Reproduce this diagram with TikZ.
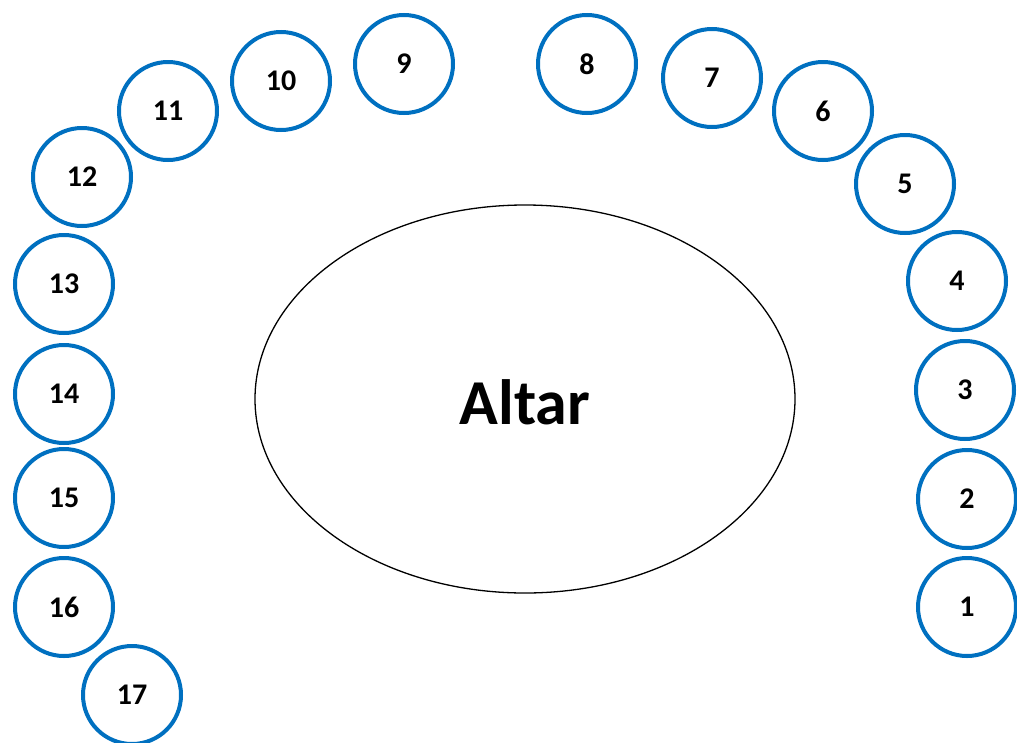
\documentclass[tikz,border=0pt]{standalone}
\usepackage{fontspec}
\setmainfont{Carlito}
\definecolor{seatblue}{HTML}{0070C0}
\begin{document}
\begin{tikzpicture}[x=1pt,y=-1pt,
  seat/.style={circle,draw=seatblue,line width=4pt,minimum size=98pt,inner sep=0pt,font=\bfseries\fontsize{30}{30}\selectfont}]
\useasboundingbox (0,0) rectangle (1017,742);
\node[seat] (s1) at (967,607) {1};
\node[seat] (s2) at (967,499) {2};
\node[seat] (s3) at (965,390) {3};
\node[seat] (s4) at (957,281) {4};
\node[seat] (s5) at (905,184) {5};
\node[seat] (s6) at (823,111) {6};
\node[seat] (s7) at (712,78) {7};
\node[seat] (s8) at (587,64) {8};
\node[seat] (s9) at (404,64) {9};
\node[seat] (s10) at (281,81) {10};
\node[seat] (s11) at (168,111) {11};
\node[seat] (s12) at (82,177) {12};
\node[seat] (s13) at (64,284) {13};
\node[seat] (s14) at (64,394) {14};
\node[seat] (s15) at (64,498) {15};
\node[seat] (s16) at (64,607) {16};
\node[seat] (s17) at (132,695) {17};
\draw[line width=1.3pt] (525,399) ellipse [x radius=270, y radius=194];
\node[font=\bfseries\fontsize{64}{64}\selectfont] (alt) at (525,402) {Altar};
\end{tikzpicture}
\end{document}
